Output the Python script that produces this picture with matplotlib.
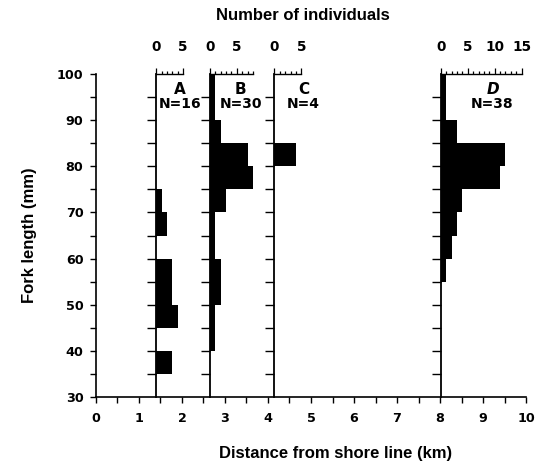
import matplotlib
matplotlib.use('Agg')
import matplotlib.pyplot as plt
import numpy as np

# ---- data ----
bin_bottoms = list(range(30, 100, 5))          # 5-mm fork-length bins 30..100
station_names = ['A', 'B', 'C', 'D']
station_km = [1.4, 2.65, 4.15, 8.02]           # distance from shore line (km)
station_N = [16, 30, 4, 38]
scale_max = [5, 8, 5, 15]                      # extent of each count scale
scale_labels = [[0, 5], [0, 5], [0, 5], [0, 5, 10, 15]]
counts_A = [0, 3, 0, 4, 3, 3, 0, 2, 1, 0, 0, 0, 0, 0]
counts_B = [0, 0, 1, 1, 2, 2, 1, 1, 3, 8, 7, 2, 1, 1]
counts_C = [0, 0, 0, 0, 0, 0, 0, 0, 0, 0, 4, 0, 0, 0]
counts_D = [0, 0, 0, 0, 0, 1, 2, 3, 4, 11, 12, 3, 1, 1]
all_counts = [counts_A, counts_B, counts_C, counts_D]
km_per_individual = 0.125                      # horizontal scale of histograms
label_offset = [0.55, 0.72, 0.68, 1.2]         # label centre offsets (km)

plt.rcParams['font.family'] = ['DejaVu Sans']
plt.rcParams['font.weight'] = 'bold'
TITLE_FONT = ['Liberation Sans', 'DejaVu Sans']

fig = plt.figure(figsize=(5.39, 4.69), dpi=100)
ax = fig.add_axes([0.178, 0.1535, 0.798, 0.6887])
ax.set_xlim(0, 10)
ax.set_ylim(30, 100)
for s in ['top', 'right']:
    ax.spines[s].set_visible(False)
for s in ['left', 'bottom']:
    ax.spines[s].set_linewidth(1.2)
ax.set_xticks(range(0, 11))
ax.set_xticks(np.arange(0, 10.01, 0.5), minor=True)
ax.set_yticks(range(30, 101, 10))
ax.set_yticks(range(30, 101, 5), minor=True)
ax.tick_params(which='both', direction='out', length=4, width=1)
ax.tick_params(which='major', labelsize=9.2)
ax.tick_params(axis='x', which='major', pad=7)
ax.tick_params(axis='y', which='major', pad=5)
for lab in ax.get_xticklabels() + ax.get_yticklabels():
    lab.set_fontweight('bold')

fig.text(336 / 539, 1 - 453 / 469, 'Distance from shore line (km)', ha='center',
         va='center', fontsize=12, fontweight='bold', family=TITLE_FONT)
fig.text(30 / 539, 1 - 235 / 469, 'Fork length (mm)', ha='center', va='center',
         rotation=90, fontsize=12, fontweight='bold', family=TITLE_FONT)
fig.text(303 / 539, 1 - 16 / 469, 'Number of individuals', ha='center', va='center',
         fontsize=12, fontweight='bold', family=TITLE_FONT)

tick_y = list(range(35, 100, 5))
xt = ax.get_xaxis_transform()
for name, x0, N, smax, slabs, counts, off in zip(station_names, station_km, station_N,
                                                 scale_max, scale_labels, all_counts, label_offset):
    widths = np.array(counts) * km_per_individual
    ax.barh(bin_bottoms, widths, height=5, left=x0, align='edge',
            color='black', linewidth=0, zorder=3)
    ax.plot([x0, x0], [30, 100], color='black', lw=1.3, zorder=4, clip_on=False)
    ax.plot([x0] * len(tick_y), tick_y, linestyle='none', marker=0, ms=6.5,
            mew=1, color='black', zorder=4)
    # count scale on top
    xs_end = x0 + smax * km_per_individual
    ax.plot([x0, xs_end], [100, 100], color='black', lw=1, clip_on=False, zorder=4)
    for u in np.arange(0, smax + 1):
        ms = 4 if u % 5 == 0 else 2.5
        ax.plot([x0 + u * km_per_individual], [100], marker=2, ms=ms, mew=0.9,
                color='black', clip_on=False, zorder=4)
    for l in slabs:
        ax.text(x0 + l * km_per_individual, 1.084, str(l), transform=xt,
                ha='center', va='center', fontsize=9.8, fontweight='bold')
    style = 'oblique' if name == 'D' else 'normal'
    ax.text(x0 + off, 96.6, name, ha='center', va='center', fontsize=11,
            fontweight='bold', fontstyle=style)
    ax.text(x0 + off, 93.6, f'N={N}', ha='center', va='center', fontsize=10,
            fontweight='bold')

fig.savefig('out.png', dpi=100)
